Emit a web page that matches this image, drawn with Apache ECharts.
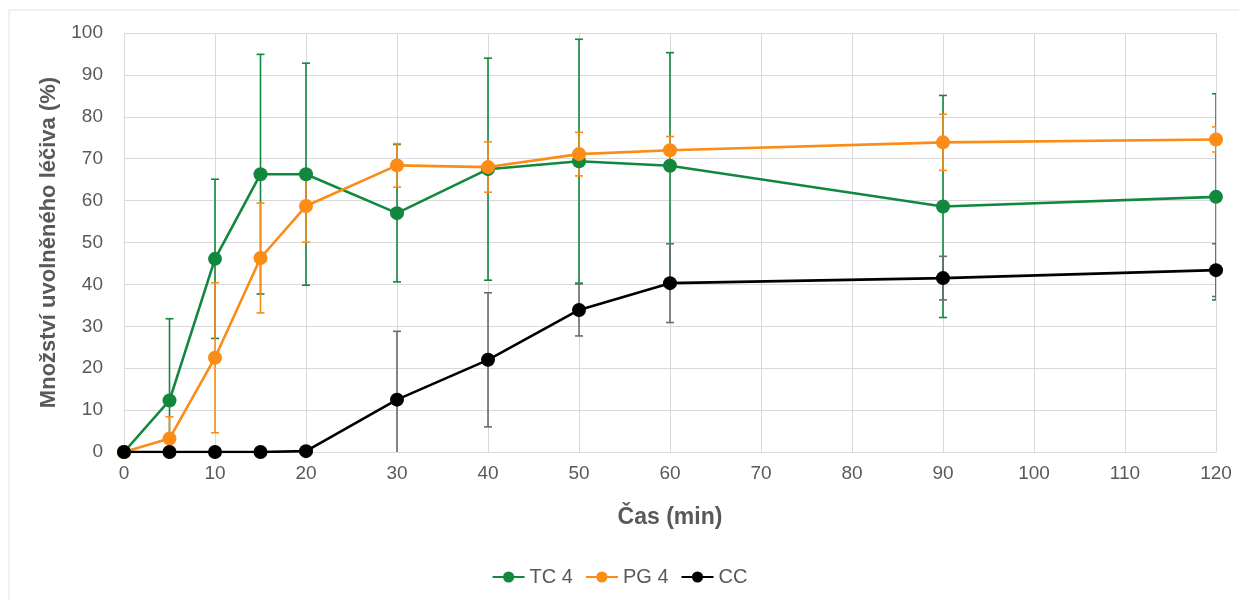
<!DOCTYPE html>
<html lang="cs">
<head>
  <meta charset="UTF-8">
  <title>Uvolňování léčiva</title>
  <style>
    * { margin: 0; padding: 0; }
    body { background: #fff; }
    #chart { width: 1239px; height: 600px; }
  </style>
</head>
<body>
  <div id="chart"></div>

  <script src="https://cdn.jsdelivr.net/npm/echarts@6/dist/echarts.min.js"></script>
  <script>
    // time points (min)
    var times = [0, 5, 10, 15, 20, 30, 40, 50, 60, 90, 120]

    // released amount (%) and SD for each formulation
    var tc4 = [0, 12.3, 46.1, 66.3, 66.3, 57.0, 67.5, 69.4, 68.3, 58.6, 60.9]
    var tc4Sd = [0, 19.5, 19.0, 28.6, 26.5, 16.4, 26.5, 29.1, 27.0, 26.5, 24.6]

    var pg4 = [0, 3.2, 22.5, 46.3, 58.7, 68.4, 68.0, 71.1, 72.0, 73.9, 74.6]
    var pg4Sd = [0, 5.2, 17.9, 13.1, 8.6, 5.2, 6.0, 5.2, 3.3, 6.7, 3.0]

    var cc = [0, 0, 0, 0, 0.2, 12.5, 22.0, 33.9, 40.3, 41.5, 43.4]
    var ccSd = [0, 0, 0, 0, 0, 16.3, 16.0, 6.2, 9.4, 5.2, 6.3]

    var seriesNames = ['TC 4', 'PG 4', 'CC']
    var lineColors = ['#12883f', '#fb8c15', '#000000']
    var barColors = ['#12883f', '#fb8c15', '#6b6b6b']

    var font = 'Liberation Sans'
    var textColor = '#595959'

    function pairs(ys) {
      return times.map(function (t, i) { return [t, ys[i]] })
    }

    function errData(ys, sds) {
      return times.map(function (t, i) { return [t, ys[i] - sds[i], ys[i] + sds[i]] })
    }

    function errorSeries(name, ys, sds, color) {
      return {
        name: name,
        type: 'custom',
        clip: true,
        silent: true,
        z: 1,
        itemStyle: { color: color },
        data: errData(ys, sds),
        renderItem: function (params, api) {
          var lo = api.coord([api.value(0), api.value(1)])
          var hi = api.coord([api.value(0), api.value(2)])
          if (Math.abs(hi[1] - lo[1]) < 1) return
          var w = 4
          var st = { stroke: color, lineWidth: 1.6 }
          return {
            type: 'group',
            children: [
              { type: 'line', shape: { x1: lo[0], y1: lo[1], x2: hi[0], y2: hi[1] }, style: st },
              { type: 'line', shape: { x1: lo[0] - w, y1: lo[1], x2: lo[0] + w, y2: lo[1] }, style: st },
              { type: 'line', shape: { x1: hi[0] - w, y1: hi[1], x2: hi[0] + w, y2: hi[1] }, style: st }
            ]
          }
        }
      }
    }

    function lineSeries(name, ys, color) {
      return {
        name: name,
        type: 'line',
        z: 3,
        data: pairs(ys),
        symbol: 'circle',
        symbolSize: 14,
        lineStyle: { color: color, width: 2.6 },
        itemStyle: { color: color },
        emphasis: { disabled: true }
      }
    }

    var myChart = echarts.init(document.getElementById('chart'))

    var option = {
      animation: false,
      backgroundColor: '#fff',
      textStyle: { fontFamily: font },
      graphic: [{
        type: 'rect',
        shape: { x: 9, y: 10, width: 1240, height: 600 },
        style: { fill: 'none', stroke: '#e2e2e2', lineWidth: 1 },
        silent: true
      }],
      grid: { left: 124, right: 23, top: 33, bottom: 148 },
      legend: {
        bottom: 8,
        itemGap: 12,
        itemWidth: 32,
        itemHeight: 14,
        data: seriesNames,
        textStyle: { color: textColor, fontSize: 20, fontFamily: font }
      },
      xAxis: {
        type: 'value',
        min: 0,
        max: 120,
        interval: 10,
        name: 'Čas (min)',
        nameLocation: 'middle',
        nameGap: 54,
        nameTextStyle: { color: textColor, fontSize: 23, fontWeight: 'bold', fontFamily: font },
        axisLine: { show: true, lineStyle: { color: '#d9d9d9' } },
        axisTick: { show: false },
        axisLabel: { color: textColor, fontSize: 19, margin: 12 },
        splitLine: { show: true, lineStyle: { color: '#d9d9d9' } }
      },
      yAxis: {
        type: 'value',
        min: 0,
        max: 100,
        interval: 10,
        name: 'Množství uvolněného léčiva (%)',
        nameLocation: 'middle',
        nameGap: 63,
        nameTextStyle: { color: textColor, fontSize: 22, fontWeight: 'bold', fontFamily: font },
        axisLine: { show: true, lineStyle: { color: '#d9d9d9' } },
        axisTick: { show: false },
        axisLabel: { color: textColor, fontSize: 19, margin: 21 },
        splitLine: { show: true, lineStyle: { color: '#d9d9d9' } }
      },
      series: [
        lineSeries('TC 4', tc4, lineColors[0]),
        lineSeries('PG 4', pg4, lineColors[1]),
        lineSeries('CC', cc, lineColors[2]),
        errorSeries('TC 4', tc4, tc4Sd, barColors[0]),
        errorSeries('PG 4', pg4, pg4Sd, barColors[1]),
        errorSeries('CC', cc, ccSd, barColors[2])
      ]
    }

    myChart.setOption(option)
  </script>
</body>
</html>
